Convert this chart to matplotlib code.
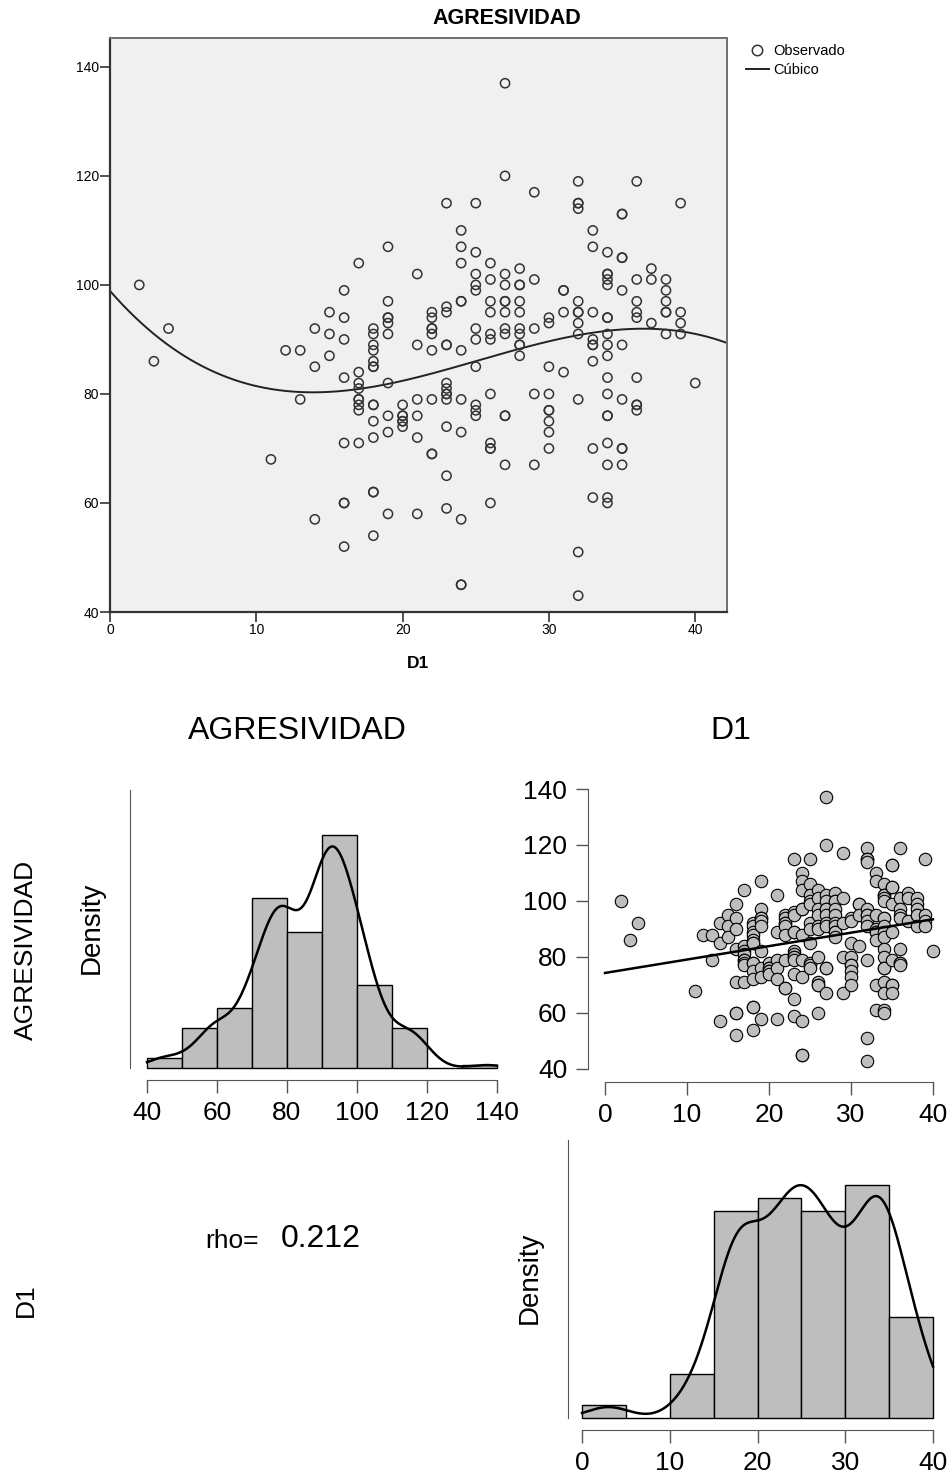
import numpy as np
import matplotlib
matplotlib.use("Agg")
import matplotlib.pyplot as plt
from matplotlib.lines import Line2D

plt.rcParams["font.family"] = ["Liberation Sans", "DejaVu Sans"]

# ── Data ────────────────────────────────────────────────────────
# one line per D1 value; duplicates are points drawn on top of each other
d1 = [
    2,
    3,
    4,
    11,
    12,
    13, 13,
    14, 14, 14,
    15, 15, 15,
    16, 16, 16, 16, 16, 16, 16, 16,
    17, 17, 17, 17, 17, 17, 17, 17, 17,
    18, 18, 18, 18, 18, 18, 18, 18, 18, 18, 18, 18, 18, 18,
    19, 19, 19, 19, 19, 19, 19, 19, 19, 19,
    20, 20, 20, 20, 20, 20,
    21, 21, 21, 21, 21, 21,
    22, 22, 22, 22, 22, 22, 22, 22, 22,
    23, 23, 23, 23, 23, 23, 23, 23, 23, 23, 23, 23, 23,
    24, 24, 24, 24, 24, 24, 24, 24, 24, 24, 24,
    25, 25, 25, 25, 25, 25, 25, 25, 25, 25, 25,
    26, 26, 26, 26, 26, 26, 26, 26, 26, 26, 26,
    27, 27, 27, 27, 27, 27, 27, 27, 27, 27, 27, 27,
    28, 28, 28, 28, 28, 28, 28, 28, 28, 28,
    29, 29, 29, 29, 29,
    30, 30, 30, 30, 30, 30, 30, 30, 30,
    31, 31, 31, 31,
    32, 32, 32, 32, 32, 32, 32, 32, 32, 32, 32, 32,
    33, 33, 33, 33, 33, 33, 33, 33, 33,
    34, 34, 34, 34, 34, 34, 34, 34, 34, 34, 34, 34, 34, 34, 34, 34, 34, 34,
    35, 35, 35, 35, 35, 35, 35, 35, 35, 35,
    36, 36, 36, 36, 36, 36, 36, 36, 36,
    37, 37, 37,
    38, 38, 38, 38, 38, 38,
    39, 39, 39, 39,
    40,
]
agresividad = [
    100,
    86,
    92,
    68,
    88,
    88, 79,
    92, 85, 57,
    95, 91, 87,
    99, 94, 90, 83, 71, 60, 60, 52,
    104, 84, 82, 81, 79, 79, 78, 77, 71,
    92, 91, 89, 88, 86, 85, 85, 78, 78, 75, 72, 62, 62, 54,
    107, 97, 94, 94, 93, 91, 82, 76, 73, 58,
    78, 76, 76, 75, 75, 74,
    102, 89, 79, 76, 72, 58,
    95, 94, 92, 92, 91, 88, 79, 69, 69,
    115, 96, 95, 89, 89, 82, 81, 80, 80, 79, 74, 65, 59,
    110, 107, 104, 97, 97, 88, 79, 73, 57, 45, 45,
    115, 106, 102, 100, 99, 92, 90, 85, 78, 77, 76,
    104, 101, 97, 95, 91, 90, 80, 71, 70, 70, 60,
    137, 120, 102, 100, 97, 97, 95, 92, 91, 76, 76, 67,
    103, 100, 100, 97, 95, 92, 91, 89, 89, 87,
    117, 101, 92, 80, 67,
    94, 93, 85, 80, 77, 77, 75, 73, 70,
    99, 99, 95, 84,
    119, 115, 115, 114, 97, 95, 95, 93, 91, 79, 51, 43,
    110, 107, 95, 90, 89, 89, 86, 70, 61,
    106, 102, 102, 101, 100, 94, 94, 91, 89, 87, 83, 80, 76, 76, 71, 67, 61, 60,
    113, 113, 105, 105, 99, 89, 79, 70, 70, 67,
    119, 101, 97, 95, 94, 83, 78, 78, 77,
    103, 101, 93,
    101, 99, 97, 95, 95, 91,
    115, 95, 93, 91,
    82,
]
rho_text = "0.212"

agr_edges = [40, 50, 60, 70, 80, 90, 100, 110, 120, 130, 140]
d1_edges = [0, 5, 10, 15, 20, 25, 30, 35, 40]
agr_ticks = [40, 60, 80, 100, 120, 140]
d1_ticks = [0, 10, 20, 30, 40]

W, H = 953, 1476
BAR_GREY = "#BEBEBE"
AXIS_GREY = "#555555"


def rect(left, top, right, bottom):
    """Axes rectangle from pixel edges (origin top-left)."""
    return [left / W, 1 - bottom / H, (right - left) / W, (bottom - top) / H]


def kde(values, grid):
    """Gaussian kernel density, R's nrd0 bandwidth."""
    v = np.asarray(values, float)
    iqr = np.subtract(*np.percentile(v, [75, 25]))
    bw = 0.9 * min(v.std(ddof=1), iqr / 1.34) * len(v) ** -0.2
    z = (grid[:, None] - v[None, :]) / bw
    return np.exp(-0.5 * z ** 2).sum(axis=1) / (len(v) * bw * np.sqrt(2 * np.pi))


def right_closed_density(values, edges):
    """Histogram density with (a, b] bins like R's hist()."""
    v = np.asarray(values, float)
    e = np.asarray(edges, float)
    counts = np.histogram(-v, bins=-e[::-1])[0][::-1]
    return counts / (len(v) * np.diff(e))


def r_style(ax, xb, ticks):
    for side in ("top", "right"):
        ax.spines[side].set_visible(False)
    ax.spines["bottom"].set_bounds(*xb)
    ax.spines["bottom"].set_color(AXIS_GREY)
    ax.set_xticks(ticks)
    ax.tick_params(axis="x", length=9, width=1, color=AXIS_GREY,
                   labelsize=19, pad=6)


def hist_panel(ax, values, edges, ticks, px_per_unit, left_px, right_px):
    edges = np.asarray(edges, float)
    dens = right_closed_density(values, edges)
    ax.bar(edges[:-1], dens, width=np.diff(edges), align="edge",
           color=BAR_GREY, edgecolor="black", linewidth=1)
    grid = np.linspace(edges[0], edges[-1], 500)
    ax.plot(grid, kde(values, grid), color="black", lw=1.8)
    top = dens.max() * 278 / 233
    ax.set_ylim(-top * 12 / 278, top)
    ax.set_xlim(edges[0] - left_px / px_per_unit,
                edges[-1] + right_px / px_per_unit)
    r_style(ax, (edges[0], edges[-1]), ticks)
    ax.spines["left"].set_bounds(0, top)
    ax.spines["left"].set_color(AXIS_GREY)
    ax.tick_params(axis="y", left=False, labelleft=False)


fig = plt.figure(figsize=(W / 100, H / 100), dpi=100)

# ── SPSS-style scatter with cubic fit ───────────────────────────
ax = fig.add_axes(rect(110, 38, 727, 612))
ax.set_facecolor("#F0F0F0")
ax.scatter(d1, agresividad, s=44, facecolors="none", edgecolors="#333333",
           linewidths=1.1, zorder=3)
xs = np.linspace(0, 42.2, 300)
cubic = np.polyfit(d1, agresividad, 3)
ax.plot(xs, np.polyval(cubic, xs), color="#222222", lw=1.4, zorder=2)
ax.set_xlim(0, 42.17)
ax.set_ylim(40, 145.3)
ax.set_xticks(d1_ticks)
ax.set_yticks(agr_ticks)
ax.tick_params(length=7, width=1.2, labelsize=10, pad=1, color="#333333")
for side in ("left", "bottom"):
    ax.spines[side].set_color("#333333")
    ax.spines[side].set_linewidth(1.6)
for side in ("top", "right"):
    ax.spines[side].set_color("#707070")
    ax.spines[side].set_linewidth(1.4)

handles = [
    Line2D([], [], marker="o", ls="none", mfc="none", mec="#333333",
           ms=7.5, mew=1.1),
    Line2D([], [], color="#222222", lw=1.4),
]
ax.legend(handles, ["Observado", "Cúbico"], loc="upper left",
          bbox_to_anchor=(740 / W, 1 - 38 / H), bbox_transform=fig.transFigure,
          frameon=False, fontsize=10.5, handlelength=1.6, handletextpad=0.3,
          labelspacing=0.35, borderaxespad=0)

fig.text(507 / W, 1 - 19 / H, "AGRESIVIDAD", ha="center", va="center",
         fontsize=15.5, fontweight="bold")
fig.text(418 / W, 1 - 663 / H, "D1", ha="center", va="center",
         fontsize=12.5, fontweight="bold")

# ── Pairs panel ─────────────────────────────────────────────────
fig.text(297 / W, 1 - 731 / H, "AGRESIVIDAD", ha="center", va="center",
         fontsize=23)
fig.text(731 / W, 1 - 731 / H, "D1", ha="center", va="center", fontsize=23)
fig.text(26 / W, 1 - 950 / H, "AGRESIVIDAD", ha="center", va="center",
         fontsize=19, rotation=90)
fig.text(26 / W, 1 - 1300 / H, "D1", ha="center", va="center",
         fontsize=19, rotation=90)

# histogram AGRESIVIDAD
axA = fig.add_axes(rect(130, 790, 510, 1080))
hist_panel(axA, agresividad, agr_edges, agr_ticks, 3.5, 17, 13)
fig.text(92 / W, 1 - 928 / H, "Density", ha="center", va="center",
         fontsize=20, rotation=90)

# scatter D1 vs AGRESIVIDAD
axB = fig.add_axes(rect(588, 780, 945, 1082))
axB.scatter(d1, agresividad, s=80, color=BAR_GREY, edgecolors="black",
            linewidths=0.8, zorder=2)
lin = np.polyfit(d1, agresividad, 1)
xl = np.linspace(d1_ticks[0], d1_ticks[-1], 2)
axB.plot(xl, np.polyval(lin, xl), color="black", lw=1.8, zorder=3)
axB.set_xlim(-17 / 8.2, 40 + 12 / 8.2)
axB.set_ylim(40 - 13 / 2.8, 140 + 9 / 2.8)
r_style(axB, (0, 40), d1_ticks)
axB.spines["left"].set_bounds(40, 140)
axB.spines["left"].set_color(AXIS_GREY)
axB.set_yticks(agr_ticks)
axB.tick_params(axis="y", length=9, width=1, color=AXIS_GREY,
                labelsize=19, pad=6)

# correlation text
fig.text(232 / W, 1 - 1241 / H, "rho=", ha="center", va="center", fontsize=19)
fig.text(321 / W, 1 - 1239 / H, rho_text, ha="center", va="center",
         fontsize=23)

# histogram D1
axD = fig.add_axes(rect(568, 1140, 945, 1430))
hist_panel(axD, d1, d1_edges, d1_ticks, 8.775, 14, 12)
fig.text(530 / W, 1 - 1278 / H, "Density", ha="center", va="center",
         fontsize=20, rotation=90)

fig.savefig("out.png", dpi=100)
